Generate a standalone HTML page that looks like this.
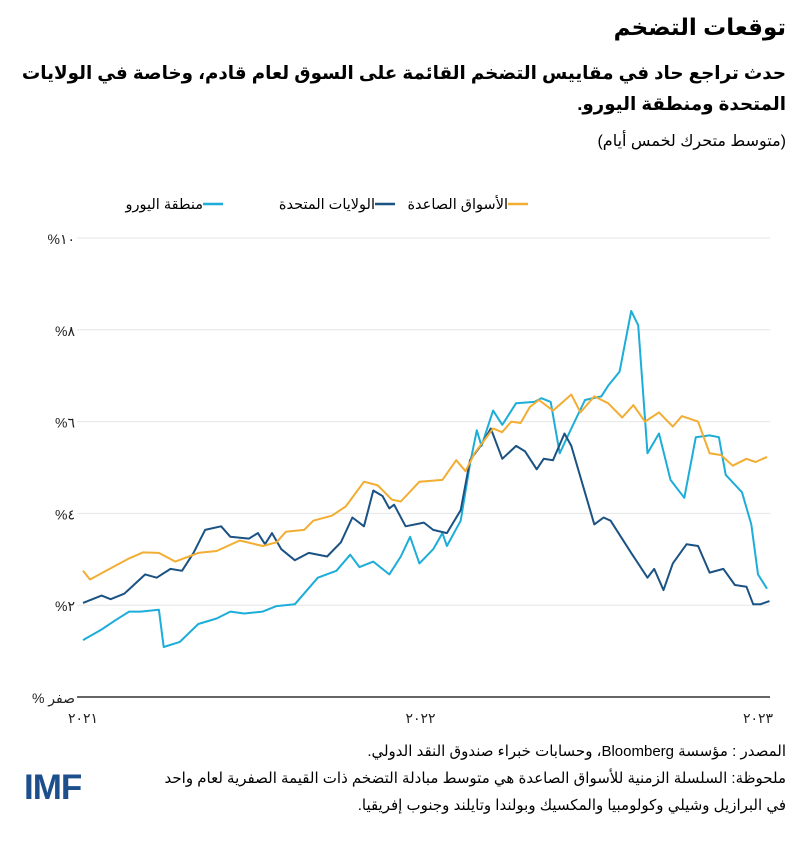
<!DOCTYPE html>
<html lang="ar"><head><meta charset="utf-8">
<style>
body{margin:0;width:800px;height:867px;background:#fff;position:relative;overflow:hidden;font-family:"Liberation Sans","DejaVu Sans",sans-serif;color:#000}
.t{position:absolute;right:14px;direction:rtl;text-align:right;white-space:nowrap}
</style></head><body>
<div class="t" style="top:14px;font-size:23px;font-weight:bold">توقعات التضخم</div>
<div class="t" style="top:57px;font-size:18.3px;font-weight:bold;line-height:31px">حدث تراجع حاد في مقاييس التضخم القائمة على السوق لعام قادم، وخاصة في الولايات<br>المتحدة ومنطقة اليورو.</div>
<div class="t" style="top:131px;font-size:16px">(متوسط متحرك لخمس أيام)</div>
<div class="t" style="top:738px;font-size:15px;line-height:27px">المصدر : مؤسسة Bloomberg، وحسابات خبراء صندوق النقد الدولي.<br>ملحوظة: السلسلة الزمنية للأسواق الصاعدة هي متوسط مبادلة التضخم ذات القيمة الصفرية لعام واحد<br>في البرازيل وشيلي وكولومبيا والمكسيك وبولندا وتايلند وجنوب إفريقيا.</div>
<div style="position:absolute;left:24px;top:768px;font-size:35px;font-weight:bold;color:#1d4f8c;letter-spacing:-1px">IMF</div>
<svg id="chart" width="800" height="867" style="position:absolute;left:0;top:0"></svg>
<script>
const months=[0,0.25,0.82,1.64,2.13,2.7,3.28,4.1,4.75,5.57,6.39,6.88,7.21,7.86,8.19,8.85,9.34,9.99,10.48,10.98,11.3,11.96,12.78,13.27,13.6,13.92,14.58,14.9,15.23,15.56,15.89,16.21,16.71,17.36,17.69,18.18,18.67,19.17,19.57,19.98,20.48,20.97,21.29,21.87,22.28,22.69,23.1,23.59,23.91,24.32];
const emerging=[2.75,2.56,2.75,3.02,3.15,3.14,2.95,3.14,3.18,3.41,3.29,3.37,3.6,3.64,3.84,3.95,4.15,4.69,4.61,4.3,4.26,4.69,4.73,5.16,4.92,5.31,5.85,5.77,6.0,5.97,6.32,6.47,6.24,6.59,6.2,6.55,6.4,6.09,6.36,6.0,6.2,5.89,6.12,6.0,5.31,5.27,5.04,5.19,5.12,5.23];
const usMonths=[0,0.66,0.98,1.47,2.21,2.62,3.11,3.52,3.93,4.34,4.91,5.24,5.9,6.22,6.47,6.72,7.05,7.53,8.03,8.68,9.17,9.58,9.99,10.32,10.65,10.89,11.06,11.47,12.12,12.45,12.94,13.43,13.76,14.17,14.5,14.91,15.4,15.72,16.13,16.38,16.71,17.12,17.36,18.18,18.51,18.76,19.49,20.07,20.31,20.64,20.97,21.46,21.87,22.28,22.77,23.18,23.59,23.83,24.08,24.41];
const us=[2.05,2.21,2.13,2.25,2.67,2.6,2.79,2.75,3.14,3.64,3.72,3.49,3.45,3.57,3.33,3.57,3.22,2.98,3.14,3.06,3.37,3.91,3.72,4.5,4.38,4.11,4.19,3.72,3.8,3.64,3.57,4.07,5.16,5.5,5.85,5.19,5.47,5.35,4.96,5.19,5.16,5.74,5.47,3.76,3.91,3.84,3.14,2.6,2.79,2.33,2.91,3.33,3.29,2.71,2.79,2.44,2.4,2.02,2.02,2.09];
const euroMonths=[0,0.66,1.15,1.64,2.05,2.7,2.87,3.44,4.1,4.75,5.24,5.73,6.39,6.88,7.53,8.35,9.01,9.5,9.83,10.32,10.89,11.3,11.63,11.96,12.45,12.78,12.94,13.43,13.76,14.0,14.17,14.58,14.91,15.4,16.05,16.3,16.63,16.95,17.36,17.85,18.43,18.67,19.08,19.49,19.74,20.07,20.48,20.89,21.38,21.79,22.28,22.61,22.85,23.43,23.76,24.0,24.32];
const euro=[1.24,1.47,1.67,1.86,1.86,1.9,1.09,1.2,1.59,1.71,1.86,1.82,1.86,1.98,2.02,2.6,2.75,3.1,2.83,2.95,2.67,3.06,3.49,2.91,3.22,3.57,3.29,3.84,5.08,5.81,5.47,6.24,5.93,6.4,6.43,6.51,6.43,5.31,5.85,6.47,6.55,6.78,7.09,8.41,8.1,5.31,5.74,4.73,4.34,5.66,5.7,5.66,4.84,4.46,3.76,2.67,2.36];
const yTicks=[0,2,4,6,8,10];
const yTickLabels=["% صفر","%٢","%٤","%٦","%٨","%١٠"];
const xTicks=[0,12,24];
const xTickLabels=["٢٠٢١","٢٠٢٢","٢٠٢٣"];
const NS="http://www.w3.org/2000/svg";
const svg=document.getElementById('chart');
const X=m=>83+m*(675/24);
const Y=v=>697-v*45.9;
function mk(t,a){const e=document.createElementNS(NS,t);for(const k in a)e.setAttribute(k,a[k]);svg.appendChild(e);return e;}
yTicks.forEach((v,i)=>{
  if(v>0){const g=mk('line',{x1:77,x2:770,y1:Y(v),y2:Y(v),stroke:'#e6e6e6','stroke-width':1});
  
  }
  const t=mk('text',{x:75,y:Y(v)+6,'text-anchor':'end','font-size':14,fill:'#222','font-family':'Liberation Sans, DejaVu Sans, sans-serif'});
  t.textContent=yTickLabels[i];
  
  
});
const ax=mk('line',{x1:77,x2:770,y1:Y(0),y2:Y(0),stroke:'#333','stroke-width':1.5});


xTicks.forEach((m,i)=>{
  const t=mk('text',{x:X(m),y:723,'text-anchor':'middle','font-size':14,fill:'#222','font-family':'Liberation Sans, DejaVu Sans, sans-serif'});
  t.textContent=xTickLabels[i];
  
  
});
function line(xs,ys,color,name){
  const d=xs.map((m,i)=>(i?'L':'M')+X(m).toFixed(1)+' '+Y(ys[i]).toFixed(1)).join(' ');
  const p=mk('path',{d:d,fill:'none',stroke:color,'stroke-width':2,'stroke-linejoin':'round'});
  
  
}
line(euroMonths,euro,'#1cadd8','euro-area-line');
line(usMonths,us,'#1a5283','us-line');
line(months,emerging,'#f2ad32','emerging-markets-line');
const legend=[['#f2ad32','الأسواق الصاعدة',528],['#1a5283','الولايات المتحدة',395],['#1cadd8','منطقة اليورو',223]];
legend.forEach(([c,l,x])=>{
  const s=mk('line',{x1:x-20,x2:x,y1:204,y2:204,stroke:c,'stroke-width':2.5});
  
  
  const t=mk('text',{x:x-20,y:209,'text-anchor':'end','font-size':14.5,fill:'#000','font-family':'Liberation Sans, DejaVu Sans, sans-serif'});
  t.textContent=l;
  
  
});
</script>
</body></html>
